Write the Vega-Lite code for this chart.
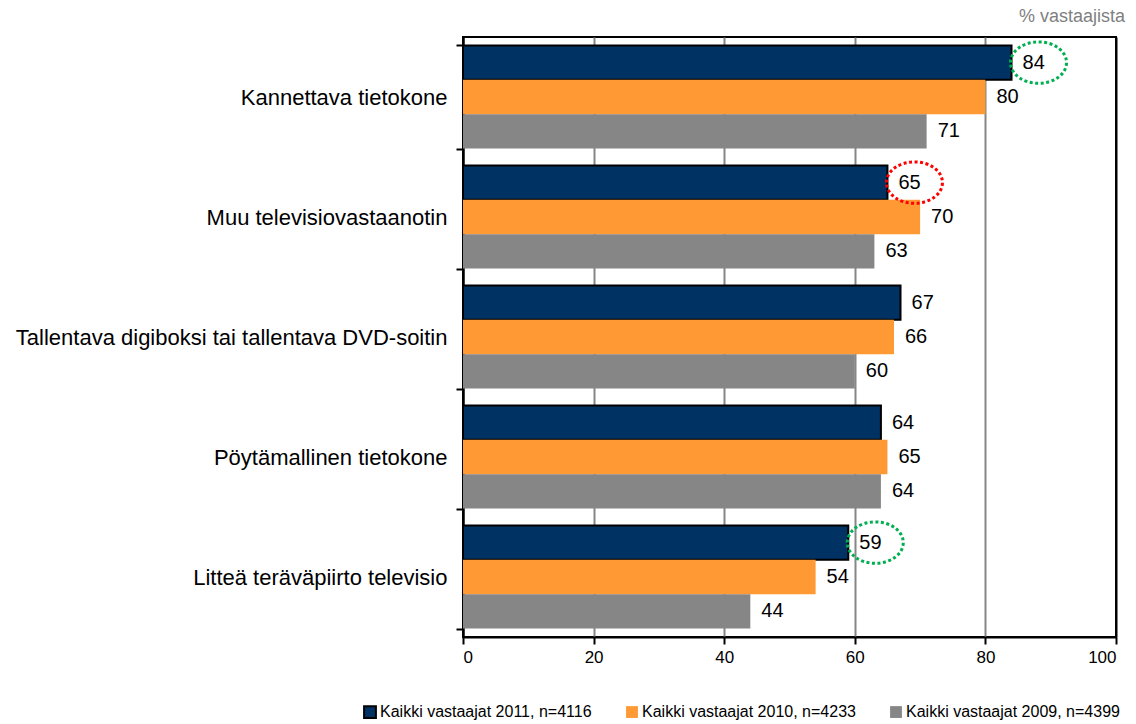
{
  "$schema": "https://vega.github.io/schema/vega-lite/v6.json",
  "width": 653,
  "height": 600,
  "autosize": {"type": "none"},
  "padding": {"left": 463, "top": 37, "right": 20, "bottom": 87},
  "background": "white",
  "config": {
    "font": "Liberation Sans",
    "view": {"stroke": "black", "strokeWidth": 2}
  },
  "title": {
    "text": "% vastaajista",
    "anchor": "end",
    "color": "#7f7f7f",
    "fontSize": 18,
    "fontWeight": "normal",
    "offset": 0,
    "dx": 5
  },
  "datasets": {
    "laitteet": [
      {"kategoria": "Kannettava tietokone", "sarja": "Kaikki vastaajat 2011, n=4116", "arvo": 84},
      {"kategoria": "Kannettava tietokone", "sarja": "Kaikki vastaajat 2010, n=4233", "arvo": 80},
      {"kategoria": "Kannettava tietokone", "sarja": "Kaikki vastaajat 2009, n=4399", "arvo": 71},
      {"kategoria": "Muu televisiovastaanotin", "sarja": "Kaikki vastaajat 2011, n=4116", "arvo": 65},
      {"kategoria": "Muu televisiovastaanotin", "sarja": "Kaikki vastaajat 2010, n=4233", "arvo": 70},
      {"kategoria": "Muu televisiovastaanotin", "sarja": "Kaikki vastaajat 2009, n=4399", "arvo": 63},
      {"kategoria": "Tallentava digiboksi tai tallentava DVD-soitin", "sarja": "Kaikki vastaajat 2011, n=4116", "arvo": 67},
      {"kategoria": "Tallentava digiboksi tai tallentava DVD-soitin", "sarja": "Kaikki vastaajat 2010, n=4233", "arvo": 66},
      {"kategoria": "Tallentava digiboksi tai tallentava DVD-soitin", "sarja": "Kaikki vastaajat 2009, n=4399", "arvo": 60},
      {"kategoria": "Pöytämallinen tietokone", "sarja": "Kaikki vastaajat 2011, n=4116", "arvo": 64},
      {"kategoria": "Pöytämallinen tietokone", "sarja": "Kaikki vastaajat 2010, n=4233", "arvo": 65},
      {"kategoria": "Pöytämallinen tietokone", "sarja": "Kaikki vastaajat 2009, n=4399", "arvo": 64},
      {"kategoria": "Litteä teräväpiirto televisio", "sarja": "Kaikki vastaajat 2011, n=4116", "arvo": 59},
      {"kategoria": "Litteä teräväpiirto televisio", "sarja": "Kaikki vastaajat 2010, n=4233", "arvo": 54},
      {"kategoria": "Litteä teräväpiirto televisio", "sarja": "Kaikki vastaajat 2009, n=4399", "arvo": 44}
    ],
    "korostus": [
      {"kategoria": "Kannettava tietokone", "sarja": "Kaikki vastaajat 2011, n=4116", "arvo": 84, "muutos": "nousu"},
      {"kategoria": "Muu televisiovastaanotin", "sarja": "Kaikki vastaajat 2011, n=4116", "arvo": 65, "muutos": "lasku"},
      {"kategoria": "Litteä teräväpiirto televisio", "sarja": "Kaikki vastaajat 2011, n=4116", "arvo": 59, "muutos": "nousu"}
    ]
  },
  "encoding": {
    "y": {
      "field": "kategoria",
      "type": "nominal",
      "sort": null,
      "scale": {
        "domain": ["Kannettava tietokone", "Muu televisiovastaanotin", "Tallentava digiboksi tai tallentava DVD-soitin", "Pöytämallinen tietokone", "Litteä teräväpiirto televisio"],
        "paddingInner": 0.14,
        "paddingOuter": 0.07
      },
      "axis": {
        "title": null,
        "tickBand": "extent",
        "tickSize": 7,
        "tickColor": "black",
        "tickWidth": 2,
        "domainColor": "black",
        "domainWidth": 2,
        "labelFontSize": 22,
        "labelColor": "black",
        "labelPadding": 9,
        "labelLimit": 600
      }
    },
    "yOffset": {
      "field": "sarja",
      "type": "nominal",
      "sort": null,
      "scale": {
        "domain": ["Kaikki vastaajat 2011, n=4116", "Kaikki vastaajat 2010, n=4233", "Kaikki vastaajat 2009, n=4399"],
        "paddingInner": 0,
        "paddingOuter": 0
      }
    },
    "x": {
      "field": "arvo",
      "type": "quantitative",
      "scale": {"domain": [0, 100], "nice": false},
      "axis": {
        "title": null,
        "values": [0, 20, 40, 60, 80, 100],
        "grid": true,
        "gridColor": {"condition": {"test": "datum.value === 0 || datum.value === 100", "value": "black"}, "value": "#868686"},
        "gridWidth": 2,
        "tickSize": 7,
        "tickColor": "black",
        "tickWidth": 2,
        "domainColor": "black",
        "domainWidth": 2,
        "labelFontSize": 17,
        "labelColor": "black",
        "labelPadding": 5
      }
    }
  },
  "layer": [
    {
      "data": {"name": "laitteet"},
      "mark": {"type": "bar", "strokeWidth": 2},
      "encoding": {
        "color": {
          "field": "sarja",
          "type": "nominal",
          "sort": null,
          "scale": {
            "domain": ["Kaikki vastaajat 2011, n=4116", "Kaikki vastaajat 2010, n=4233", "Kaikki vastaajat 2009, n=4399"],
            "range": ["#003263", "#FF9933", "#868686"]
          },
          "legend": {
            "title": null,
            "orient": "none",
            "legendX": -101,
            "legendY": 667,
            "direction": "horizontal",
            "symbolType": "square",
            "symbolSize": 140,
            "symbolStrokeWidth": 2,
            "labelFontSize": 16,
            "labelColor": "black",
            "labelOffset": 2,
            "labelLimit": 400,
            "columnPadding": 30
          }
        },
        "stroke": {
          "field": "sarja",
          "type": "nominal",
          "sort": null,
          "scale": {
            "domain": ["Kaikki vastaajat 2011, n=4116", "Kaikki vastaajat 2010, n=4233", "Kaikki vastaajat 2009, n=4399"],
            "range": ["#000000", "transparent", "transparent"]
          }
        }
      }
    },
    {
      "data": {"name": "laitteet"},
      "mark": {"type": "text", "align": "left", "baseline": "middle", "dx": 11, "fontSize": 20, "color": "black"},
      "encoding": {
        "text": {"field": "arvo", "type": "quantitative"}
      }
    },
    {
      "data": {"name": "korostus"},
      "mark": {
        "type": "point",
        "shape": "M-1,0 A1,0.74 0 1,1 1,0 A1,0.74 0 1,1 -1,0 Z",
        "size": 3136,
        "filled": false,
        "strokeWidth": 3,
        "strokeDash": [3, 2.5],
        "xOffset": 27,
        "opacity": 1
      },
      "encoding": {
        "stroke": {"condition": {"test": "datum.muutos === 'lasku'", "value": "#FF0000"}, "value": "#00B050"}
      }
    }
  ]
}
